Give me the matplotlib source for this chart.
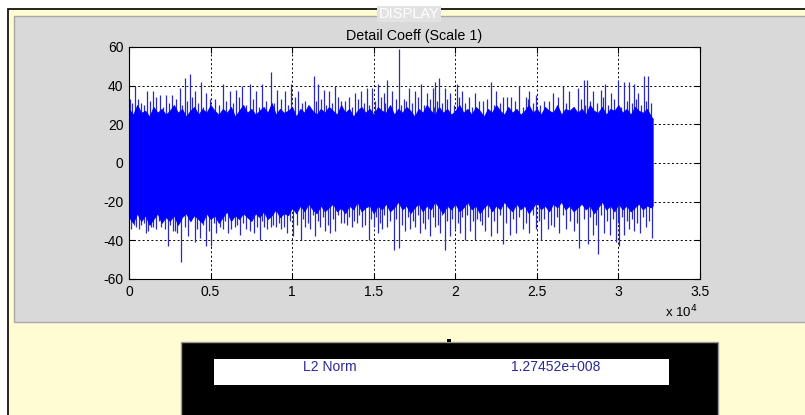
import matplotlib.pyplot as plt
from matplotlib.patches import Rectangle

plt.rcParams['font.family'] = ['Liberation Sans', 'DejaVu Sans']
plt.rcParams['axes.unicode_minus'] = False

W, H = 805, 415

# Solid core of the signal, read every 250 samples
band_x = list(range(0, 32001, 250)) + [32100]
band_hi = [28, 25, 30, 26, 27, 24, 29, 26, 28, 25,
           27, 30, 26, 28, 24, 27, 29, 25, 28, 26,
           30, 27, 25, 28, 26, 29, 24, 27, 30, 26,
           28, 25, 27, 29, 26, 31, 25, 28, 26, 27,
           29, 24, 28, 26, 30, 27, 25, 28, 26, 29,
           27, 25, 30, 26, 28, 24, 27, 29, 26, 28,
           25, 29, 27, 26, 30, 25, 28, 26, 29, 27,
           24, 28, 26, 30, 27, 25, 29, 26, 28, 25,
           27, 30, 26, 28, 25, 29, 27, 24, 28, 26,
           30, 27, 25, 29, 26, 28, 25, 27, 30, 26,
           28, 25, 29, 27, 26, 30, 25, 28, 27, 29,
           26, 28, 25, 30, 27, 26, 29, 25, 28, 27,
           30, 26, 28, 25, 29, 27, 26, 28, 24, 23]
band_lo = [-28, -31, -26, -30, -27, -32, -29, -26, -31, -28,
           -30, -27, -32, -28, -26, -30, -27, -29, -31, -26,
           -29, -27, -31, -28, -25, -30, -27, -29, -26, -28,
           -30, -26, -28, -25, -29, -27, -24, -28, -26, -27,
           -23, -26, -22, -25, -21, -24, -26, -22, -25, -23,
           -21, -25, -23, -26, -22, -24, -20, -25, -23, -22,
           -26, -22, -24, -21, -25, -23, -20, -24, -22, -26,
           -23, -21, -25, -22, -24, -20, -23, -26, -22, -24,
           -21, -25, -23, -20, -24, -22, -26, -23, -21, -25,
           -22, -24, -20, -23, -25, -21, -24, -22, -26, -23,
           -20, -24, -22, -25, -21, -23, -20, -24, -22, -25,
           -23, -21, -24, -22, -26, -23, -20, -24, -22, -25,
           -21, -24, -22, -25, -23, -21, -24, -22, -23, -22]

# Tall positive spikes (sample index, value)
up_x = [40, 388, 756, 1124, 1470, 1879, 2287, 2655, 3104, 3411, 3717, 4023, 4391, 4738, 5249,
        5759, 6167, 6576, 6943, 7393, 7801, 8169, 8680, 9068, 9538, 9946, 10355,
        10803, 11315, 11580, 11928, 12234, 12641, 13009, 13459, 13867, 14234, 14582, 14888,
        15256, 15603, 15808, 16114, 16563, 16829, 17176, 17543, 17911, 18258, 18606, 18769,
        19015, 19341, 19688, 20097, 20403, 20811, 21219,
        21690, 22200, 22506, 22915, 23425, 23936, 24344, 24549, 24957, 25467, 25978, 26591,
        26999, 27510, 27877, 28082, 28429, 28939, 29184, 29551, 29960, 30327, 30674, 30940,
        31185, 31553, 31839]
up_v = [33, 40, 31, 37, 37, 35, 35, 35, 39, 44, 46, 37, 42, 36, 33,
        41, 37, 38, 40, 41, 37, 41, 47, 38, 37, 41, 37,
        32, 45, 41, 38, 37, 40, 32, 34, 36, 37, 39, 39,
        41, 36, 43, 37, 59, 33, 39, 37, 41, 36, 39, 42,
        44, 39, 36, 41, 37, 34, 36,
        32, 42, 37, 34, 34, 40, 34, 37, 35, 32, 36, 40,
        37, 39, 43, 43, 37, 38, 41, 36, 43, 42, 42, 41,
        36, 45, 45]

# Shorter positive spikes along the band edge
up2_x = [214, 572, 940, 1297, 1675, 2083, 2471, 2880, 3258, 3564,
         3870, 4207, 4565, 4994, 5504, 5963, 6372, 6760, 7168, 7597,
         7985, 8425, 8874, 9303, 9742, 10150, 10579, 11059, 11448, 11754,
         12081, 12438, 12825, 13234, 13663, 14051, 14408, 14735, 15072, 15430,
         15706, 15961, 16339, 16696, 17003, 17360, 17727, 18085, 18432, 18688,
         18892, 19178, 19515, 19893, 20250, 20607, 21015, 21455, 21945, 22353,
         22711, 23170, 23681, 24140, 24447, 24753, 25212, 25723, 26285, 26795,
         27255, 27694, 27980, 28256, 28684, 29062, 29368, 29756, 30144, 30501,
         30807, 31063, 31369, 31696, 31990]
up2_v = [31, 33, 30, 32, 34, 29, 31, 33, 30, 32,
         34, 31, 29, 33, 30, 32, 31, 34, 30, 33,
         29, 32, 31, 33, 30, 34, 31, 29, 32, 33,
         30, 31, 34, 32, 29, 33, 31, 30, 32, 34,
         31, 29, 33, 30, 32, 31, 34, 30, 33, 29,
         32, 31, 33, 30, 34, 31, 29, 32, 33, 30,
         31, 34, 32, 29, 33, 31, 30, 32, 34, 31,
         29, 33, 30, 32, 31, 34, 30, 33, 29, 32,
         31, 33, 30, 32, 31]

# Tall negative spikes (sample index, value)
dn_x = [143, 449, 756, 1062, 1327, 1675, 1981, 2390, 2696, 2961, 3207, 3615, 4023, 4330,
        4738, 5045, 5350, 5759, 6065, 6474, 6780, 7188, 7658, 8006, 8271, 8680, 9027, 9334,
        9702, 10048, 10559,
        10803, 11110, 11417, 11723, 12029, 12336, 12641, 13009, 13356, 13662, 13969, 14275,
        14684, 14990, 15256, 15501, 15808, 16216, 16563, 16931, 17237, 17543, 17850, 18156,
        18462, 18769, 19075, 19341, 19648, 19995, 20301, 20566, 20914, 21219,
        21486, 21833, 22200, 22568, 22915, 23324, 23732, 24140, 24549, 24957, 25264, 25671,
        26039, 26386, 26795, 27306, 27612, 28123, 28429, 28776, 29143, 29510, 29857, 30061,
        30368, 30674, 30981, 31349, 31696, 32043]
dn_v = [-34, -33, -32, -36, -33, -34, -33, -43, -35, -36, -51, -38, -41, -39,
        -43, -43, -36, -34, -36, -33, -37, -34, -36, -40, -33, -33, -33, -34,
        -36, -38, -40,
        -33, -34, -38, -33, -35, -36, -35, -31, -32, -33, -31, -33,
        -40, -33, -36, -34, -33, -45, -44, -35, -34, -33, -36, -34,
        -38, -33, -36, -45, -38, -34, -36, -40, -35, -40,
        -30, -35, -38, -36, -42, -37, -36, -34, -36, -34, -40, -34,
        -33, -36, -34, -35, -44, -42, -37, -47, -36, -37, -41, -43,
        -37, -34, -35, -36, -33, -39]

# Shorter negative spikes along the band edge
dn2_x = [296, 602, 909, 1195, 1501, 1828, 2185, 2543, 2828, 3084,
         3411, 3819, 4176, 4534, 4891, 5197, 5554, 5912, 6269, 6627,
         6984, 7423, 7832, 8138, 8475, 8853, 9180, 9518, 9875, 10303,
         10681, 10956, 11263, 11570, 11876, 12182, 12488, 12825, 13182, 13509,
         13815, 14122, 14479, 14837, 15123, 15378, 15654, 16012, 16389, 16747,
         17084, 17390, 17696, 18003, 18309, 18615, 18922, 19208, 19494, 19821,
         20148, 20433, 20740, 21066, 21352, 21659, 22016, 22384, 22741, 23119,
         23528, 23936, 24344, 24753, 25110, 25467, 25855, 26212, 26590, 27050,
         27459, 27867, 28276, 28602, 28960, 29326, 29683, 29959, 30214, 30521,
         30827, 31165, 31522, 31870]
dn2_v = [-32, -34, -31, -35, -33, -30, -34, -32, -35, -31,
         -33, -30, -34, -32, -35, -31, -33, -30, -34, -32,
         -31, -35, -33, -30, -34, -32, -31, -33, -30, -32,
         -29, -31, -27, -30, -28, -32, -29, -27, -31, -28,
         -30, -27, -32, -29, -28, -31, -27, -30, -29, -32,
         -28, -30, -27, -31, -29, -28, -32, -27, -30, -29,
         -31, -28, -27, -30, -29, -32, -28, -30, -27, -31,
         -29, -28, -31, -27, -30, -29, -32, -28, -27, -30,
         -31, -29, -28, -32, -27, -30, -29, -31, -28, -30,
         -29, -31, -28, -30]

x_ticks = [0, 5000, 10000, 15000, 20000, 25000, 30000, 35000]
x_labels = ['0', '0.5', '1', '1.5', '2', '2.5', '3', '3.5']
y_ticks = [-60, -40, -20, 0, 20, 40, 60]


def box(x0, y0, x1, y1, **kw):
    # rectangle given in screen pixels (origin top-left)
    return Rectangle((x0 / W, 1 - y1 / H), (x1 - x0) / W, (y1 - y0) / H,
                     transform=fig.transFigure, **kw)


fig = plt.figure(figsize=(W / 100, H / 100), dpi=100, facecolor='white')

# window frame, yellow background and grey panel (behind the axes)
fig.patches.append(box(8, 9, 810, 420, facecolor='#fffbd2', edgecolor='black', linewidth=1.2, zorder=-3))
fig.patches.append(box(14, 16, 810, 322, facecolor='#d9d9d9', edgecolor='#a8a8a8', linewidth=1, zorder=-2))
fig.text(409 / W, 1 - 14 / H, 'DISPLAY', ha='center', va='center', color='white', fontsize=10.5,
         bbox=dict(boxstyle='square,pad=0.1', facecolor='#e2e2e2', edgecolor='none'))

# plot axes
ax = fig.add_axes([129 / W, 1 - 279 / H, 571 / W, 232 / H])
ax.set_facecolor('white')
ax.set_axisbelow(True)
spike = dict(color='#2a2ac0', linewidth=0.9, zorder=2)
ax.vlines(up_x, 0, up_v, **spike)
ax.vlines(up2_x, 0, up2_v, **spike)
ax.vlines(dn_x, dn_v, 0, **spike)
ax.vlines(dn2_x, dn2_v, 0, **spike)
ax.fill_between(band_x, band_lo, band_hi, color='#0000ff', linewidth=0.6, zorder=3)

ax.set_xlim(0, 35000)
ax.set_ylim(-60, 60)
ax.set_xticks(x_ticks)
ax.set_xticklabels(x_labels)
ax.set_yticks(y_ticks)
ax.tick_params(direction='in', length=4, width=0.8, labelsize=10, top=True, right=True, pad=4)
ax.grid(True, color='black', linestyle=(0, (2, 2.5)), linewidth=0.7)
for s in ax.spines.values():
    s.set_linewidth(0.8)
    s.set_zorder(4)
ax.set_title('Detail Coeff (Scale 1)', fontsize=10.3, pad=5)
fig.text(681 / W, 1 - 312 / H, r'x 10$^{4}$', ha='center', va='center', fontsize=9.5)

# L2 norm box
fig.patches.append(box(181, 342, 718, 420, facecolor='black', edgecolor='#9a9a9a', linewidth=1))
fig.patches.append(box(214, 359, 669, 385, facecolor='white', edgecolor='none'))
fig.patches.append(box(447, 339, 451, 342, facecolor='black', edgecolor='none'))
fig.text(330 / W, 1 - 367 / H, 'L2 Norm', ha='center', va='center', color='#2a2a9a', fontsize=10)
fig.text(556 / W, 1 - 367 / H, '1.27452e+008', ha='center', va='center', color='#2a2a9a', fontsize=10)

fig.savefig('out.png', dpi=100, facecolor=fig.get_facecolor())
